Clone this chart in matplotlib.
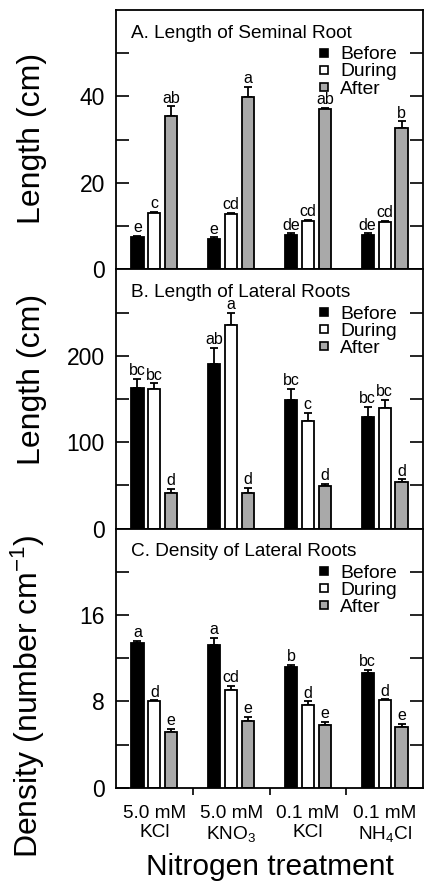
import numpy as np
import matplotlib.pyplot as plt
from matplotlib.lines import Line2D

plt.rcParams['font.family'] = ['Liberation Sans', 'DejaVu Sans']
plt.rcParams['mathtext.default'] = 'regular'

# Treatments and sampling times
treatments = ['5.0 mM\nKCl', '5.0 mM\nKNO$_3$', '0.1 mM\nKCl', '0.1 mM\nNH$_4$Cl']
stages = ['Before', 'During', 'After']

# A. Length of seminal root (cm)
seminal_mean = [[7.4, 13.0, 35.4], [7.1, 12.7, 39.8], [8.0, 11.2, 37.1], [8.0, 10.9, 32.8]]
seminal_err = [[0.3, 0.3, 2.3], [0.3, 0.3, 2.4], [0.3, 0.3, 0.3], [0.3, 0.3, 1.4]]
seminal_sig = [['e', 'c', 'ab'], ['e', 'cd', 'a'], ['de', 'cd', 'ab'], ['de', 'cd', 'b']]

# B. Length of lateral roots (cm)
lateral_mean = [[163, 161, 41], [190, 235, 41], [149, 125, 49], [129, 139, 54]]
lateral_err = [[10, 7, 5], [19, 15, 6], [13, 9, 3], [12, 10, 3]]
lateral_sig = [['bc', 'bc', 'd'], ['ab', 'a', 'd'], ['bc', 'c', 'd'], ['bc', 'bc', 'd']]

# C. Density of lateral roots (number per cm)
density_mean = [[13.45, 8.0, 5.15], [13.2, 9.1, 6.2], [11.2, 7.7, 5.8], [10.6, 8.1, 5.6]]
density_err = [[0.15, 0.1, 0.3], [0.7, 0.35, 0.35], [0.2, 0.3, 0.3], [0.35, 0.1, 0.3]]
density_sig = [['a', 'd', 'e'], ['a', 'cd', 'e'], ['b', 'd', 'e'], ['bc', 'd', 'e']]

colors = ['black', 'white', '#a9a9a9']

panels = [
    ('A. Length of Seminal Root', seminal_mean, seminal_err, seminal_sig, 60, 20, 'Length (cm)', 0.505),
    ('B. Length of Lateral Roots', lateral_mean, lateral_err, lateral_sig, 300, 100, 'Length (cm)', 0.575),
    ('C. Density of Lateral Roots', density_mean, density_err, density_sig, 24, 8,
     'Density (number cm$^{-1}$)', 0.355),
]

fig = plt.figure(figsize=(4.28, 8.83), dpi=100)
left, right = 116 / 428, 423 / 428
top_px, h_px = 10, 259.3

offsets = [-0.22, 0.0, 0.22]
width = 0.157
centers = np.arange(len(treatments)) + 0.5

for p, (title, mean, err, sig, ymax, ystep, ylabel, ylab_y) in enumerate(panels):
    bottom = 1 - (top_px + (p + 1) * h_px) / 883
    ax = fig.add_axes([left, bottom, right - left, h_px / 883])
    mean = np.array(mean)
    err = np.array(err)
    for s in range(3):
        x = centers + offsets[s]
        ax.bar(x, mean[:, s], width, color=colors[s], edgecolor='black', linewidth=1.3, zorder=2)
        ax.errorbar(x, mean[:, s], yerr=[np.zeros(4), err[:, s]], fmt='none', ecolor='black',
                    elinewidth=1.3, capsize=3.2, capthick=1.3, zorder=1)
        for i in range(4):
            ax.annotate(sig[i][s], (x[i], mean[i, s] + err[i, s]), xytext=(0, 0.5),
                        textcoords='offset points', ha='center', va='bottom', fontsize=11.5)

    ax.set_xlim(0, 4)
    ax.set_ylim(0, ymax)
    ax.set_yticks(np.arange(0, ymax, ystep))
    ax.set_yticks(np.arange(ystep / 2, ymax, ystep), minor=True)
    ax.tick_params(axis='y', which='both', direction='in', length=9.5, width=1.2,
                   left=True, right=True, labelsize=16.5, pad=8)
    ax.set_xticks(centers)
    ax.set_xticks([1, 2, 3], minor=True)
    ax.tick_params(axis='x', which='major', length=0, pad=12, labelsize=13.7)
    ax.tick_params(axis='x', which='minor', direction='out', length=5, width=1.2)
    if p == 2:
        ax.set_xticklabels(treatments, linespacing=1.15)
    else:
        ax.set_xticklabels([])
    for sp in ax.spines.values():
        sp.set_linewidth(1.3)

    ax.text(0.05, 0.91, title, transform=ax.transAxes, fontsize=13.7, va='center', ha='left')

    handles = [Line2D([], [], marker='s', linestyle='none', markersize=6,
                      markerfacecolor=c, markeredgecolor='black', markeredgewidth=1.2)
               for c in colors]
    ax.legend(handles, stages, loc='upper right', bbox_to_anchor=(0.915, 0.862),
              frameon=False, fontsize=13.9, handlelength=0.7, handletextpad=0.5,
              labelspacing=-0.02, borderpad=0, borderaxespad=0)

    ax.set_ylabel(ylabel, fontsize=23)
    ax.yaxis.set_label_coords(-0.225, ylab_y)

    if p == 2:
        ax.set_xlabel('Nitrogen treatment', fontsize=21.5)
        ax.xaxis.set_label_coords(0.5, -0.25)

fig.savefig('out.png', dpi=100)
